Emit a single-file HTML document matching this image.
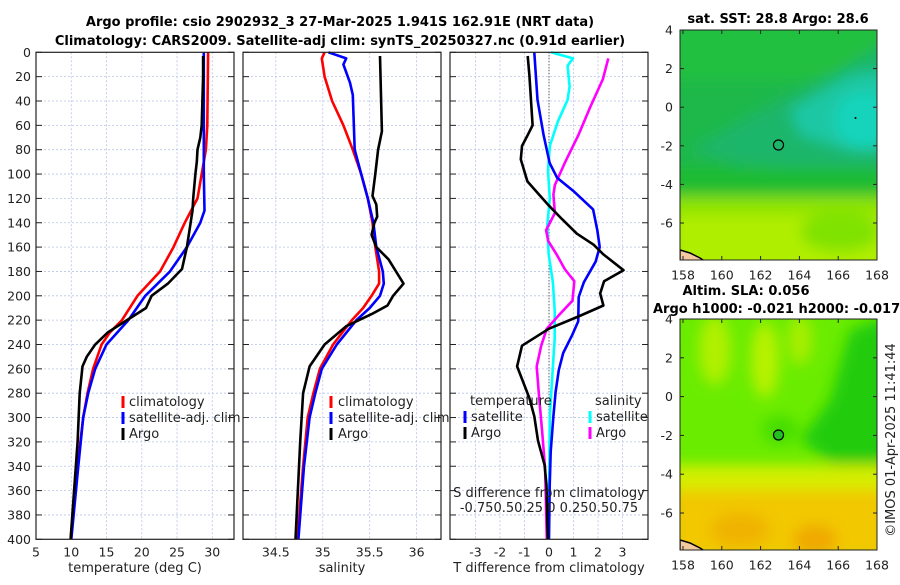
<!DOCTYPE html>
<html><head><meta charset="utf-8">
<style>
html,body{margin:0;padding:0;background:#fff;}
svg text{font-family:"DejaVu Sans","Liberation Sans",sans-serif;fill:#222;}
.t{font-size:12.5px;}
.b{font-size:13px;font-weight:bold;fill:#000;}
</style></head>
<body>
<svg id="fig" width="900" height="580" viewBox="0 0 900 580" xmlns="http://www.w3.org/2000/svg">
<defs>
<filter id="blur1" x="-20%" y="-20%" width="140%" height="140%"><feGaussianBlur stdDeviation="7"/></filter>
<clipPath id="cm1"><rect x="680" y="30" width="197" height="230"/></clipPath>
<clipPath id="cm2"><rect x="680" y="319" width="197" height="231"/></clipPath>
</defs>
<text class="b" x="340" y="26" text-anchor="middle">Argo profile: csio 2902932_3 27-Mar-2025 1.941S 162.91E (NRT data)</text>
<text class="b" x="340" y="45" text-anchor="middle">Climatology: CARS2009. Satellite-adj clim: synTS_20250327.nc (0.91d earlier)</text>
<g id="plots"></g>

<!-- SST map -->
<g>
<text class="b" x="778" y="23" text-anchor="middle">sat. SST: 28.8 Argo: 28.6</text>
<g clip-path="url(#cm1)">
<rect x="680" y="30" width="197" height="230" fill="#1eb84a"/>
<g filter="url(#blur1)">
<rect x="670" y="20" width="220" height="60" fill="#22c040"/>
<polygon points="690,150 760,110 840,70 890,40 890,200 820,170 740,165" fill="#1cb66a"/>
<polygon points="790,110 850,75 890,70 890,150 850,150 800,135" fill="#1ec8a4"/>
<ellipse cx="865" cy="120" rx="30" ry="28" fill="#18d4bc"/>
<rect x="670" y="168" width="220" height="28" fill="#1cbc30"/>
<rect x="670" y="196" width="220" height="25" fill="#8ee400"/>
<rect x="670" y="215" width="220" height="60" fill="#b0ee00"/>
<ellipse cx="840" cy="232" rx="40" ry="20" fill="#80e200"/>
</g>
<path d="M680,250 L690,253 L700,258 L706,262 L680,262 Z" fill="#f5c9a0" stroke="#000" stroke-width="1.5"/>
</g>
<rect x="680" y="30" width="197" height="230" fill="none" stroke="#222" stroke-width="1"/>
<circle cx="778.5" cy="145" r="5" fill="none" stroke="#000" stroke-width="1.2"/>
<circle cx="855.5" cy="118" r="1" fill="#000"/>
</g>

<!-- SLA map -->
<g>
<text class="b" x="746" y="295" text-anchor="middle">Altim. SLA: 0.056</text>
<text class="b" x="653" y="313">Argo h1000: -0.021 h2000: -0.017</text>
<g clip-path="url(#cm2)">
<rect x="680" y="319" width="197" height="231" fill="#6aec00"/>
<g filter="url(#blur1)">
<ellipse cx="715" cy="350" rx="16" ry="35" fill="#b0f000"/>
<ellipse cx="765" cy="360" rx="14" ry="38" fill="#b8f200"/>
<ellipse cx="800" cy="340" rx="12" ry="25" fill="#a8ee00"/>
<polygon points="830,400 850,330 890,315 890,480 840,470 800,440" fill="#22cc10"/>
<ellipse cx="780" cy="430" rx="18" ry="14" fill="#44dd05"/>
<rect x="670" y="465" width="220" height="35" fill="#d4ee00"/>
<rect x="670" y="490" width="220" height="70" fill="#f2c800"/>
<ellipse cx="740" cy="530" rx="30" ry="18" fill="#f0b400"/>
<ellipse cx="815" cy="540" rx="22" ry="15" fill="#f0a800"/>
</g>
<path d="M680,540 L690,543 L700,548 L706,552 L680,552 Z" fill="#f5c9a0" stroke="#000" stroke-width="1.5"/>
</g>
<rect x="680" y="319" width="197" height="231" fill="none" stroke="#222" stroke-width="1"/>
<circle cx="778.5" cy="435" r="5" fill="#22c020" stroke="#000" stroke-width="1.2"/>
</g>
<text x="0" y="0" transform="translate(895,440) rotate(-90)" text-anchor="middle" style="font-size:13px">©IMOS 01-Apr-2025 11:41:44</text>
<g id="mapaxes"></g>
</svg>
<script>
// ---- data ----
const tDepthArgo = [3,20,40,60,70,80,90,100,120,130,160,178,190,200,210,220,230,240,250,258,280,320,360,400];
const tArgo      = [28.7,28.7,28.6,28.5,28.3,27.9,27.8,27.6,27.3,27.2,26.4,25.7,23.7,21.4,20.6,17.9,15.2,13.4,12.2,11.6,11.2,10.9,10.4,9.9];
const tDepthClim = [0,60,80,100,120,140,160,180,200,220,230,240,260,280,300,340,400];
const tClim      = [29.4,29.3,29.1,28.5,27.9,26.1,24.5,22.6,19.4,17.2,15.5,14.3,13.1,12.3,11.7,10.9,9.9];
const tDepthSat  = [0,100,130,140,160,180,200,220,240,260,280,300,340,400];
const tSat       = [28.8,28.8,28.9,28.3,26.4,24.0,20.5,18.1,15.0,13.4,12.4,11.7,11.0,10.0];

const sDepthArgo = [3,65,80,100,118,125,135,140,150,160,170,190,200,208,215,225,240,258,280,320,400];
const sArgo      = [35.61,35.63,35.59,35.56,35.53,35.57,35.58,35.55,35.52,35.57,35.70,35.86,35.75,35.69,35.52,35.25,35.02,34.86,34.79,34.76,34.71];
const sDepthClim = [0,5,20,40,60,80,100,120,140,160,180,190,200,210,220,240,260,280,300,340,400];
const sClim      = [35.02,34.99,35.02,35.10,35.22,35.32,35.41,35.48,35.53,35.56,35.60,35.60,35.52,35.43,35.31,35.11,34.97,34.90,34.84,34.79,34.73];
const sDepthSat  = [0,5,10,25,35,80,100,120,140,160,180,190,200,210,220,240,260,280,300,340,400];
const sSat       = [35.06,35.25,35.22,35.29,35.32,35.34,35.41,35.48,35.54,35.57,35.64,35.65,35.61,35.50,35.36,35.15,34.99,34.92,34.86,34.80,34.74];

const dtArgoDepth = [3,19,60,68,77,88,106,117,126,137,149,158,166,179,188,198,208,217,227,241,258,284,299,319,339,356,400];
const dtArgo      = [-0.87,-0.8,-0.67,-0.87,-1.1,-1.15,-0.88,-0.4,0.0,0.53,1.14,1.82,2.22,3.04,2.25,2.09,2.22,1.2,0.0,-1.1,-1.3,-0.8,-0.6,-0.45,-0.18,-0.1,-0.05];
const dtSatDepth  = [0,39,68,91,103,114,129,146,160,172,189,201,221,232,247,261,279,299,328,356,400];
const dtSat       = [-0.6,-0.47,-0.22,0.03,0.33,1.0,1.8,1.97,2.07,1.9,1.42,1.21,1.19,0.95,0.58,0.4,0.27,0.18,0.07,0.03,0.0];
const dsSatDepth  = [0,5,11,28,39,57,77,97,120,143,166,189,212,235,258,299,400];
const dsSat       = [0.02,0.245,0.19,0.21,0.19,0.09,0.008,-0.01,0.008,-0.018,-0.003,0.04,0.058,0.058,0.04,0.008,-0.005];
const dsArgoDepth = [5,22,45,68,91,109,117,132,146,155,166,178,188,204,215,227,241,258,284,313,342,400];
const dsArgo      = [0.605,0.55,0.42,0.30,0.16,0.06,0.045,0.06,-0.03,-0.008,0.078,0.16,0.258,0.24,0.11,-0.022,-0.08,-0.125,-0.1,-0.068,-0.04,-0.022];

const yTicks = [0,20,40,60,80,100,120,140,160,180,200,220,240,260,280,300,320,340,360,380,400];
const tTicks = [5,10,15,20,25,30];
const sTicks = [34.5,35,35.5,36];
const dTicks = [-3,-2,-1,0,1,2,3];
const latTicks = [4,2,0,-2,-4,-6];
const lonTicks = [158,160,162,164,166,168];

// ---- axes ----
const NS='http://www.w3.org/2000/svg';
const Y0=52.3, Y1=539.3;
const yOf = d => Y0 + d*(Y1-Y0)/400;
const panels = [
 {name:'temperature-panel', x0:36, x1:234, v0:5, v1:33.08},
 {name:'salinity-panel', x0:243, x1:441, v0:34.15, v1:36.26},
 {name:'difference-panel', x0:450, x1:648, v0:-4.04, v1:4.04}
];
function sc(p){return v => p.x0 + (v-p.v0)*(p.x1-p.x0)/(p.v1-p.v0);}
const root=document.getElementById('plots');
function mk(tag,attrs,parent){const e=document.createElementNS(NS,tag);for(const k in attrs)e.setAttribute(k,attrs[k]);(parent||root).appendChild(e);return e;}
function line(xs,ds,f,color,name,parent){
  const pts=xs.map((v,i)=>f(v).toFixed(1)+','+yOf(ds[i]).toFixed(1)).join(' ');
  const e=mk('polyline',{points:pts,fill:'none',stroke:color,'stroke-width':2.6,'stroke-linejoin':'round'},parent);
  
  
}
panels.forEach((p,pi)=>{
  const g=mk('g',{});
  
  
  const f=sc(p);
  const xt = pi==0?tTicks:pi==1?sTicks:dTicks;
  yTicks.forEach(d=>{
    if(d>0&&d<400) mk('line',{x1:p.x0,x2:p.x1,y1:yOf(d),y2:yOf(d),stroke:'#b8c4e8','stroke-width':0.8,'stroke-dasharray':'2,2'},g);
    mk('line',{x1:p.x0,x2:p.x0+6,y1:yOf(d),y2:yOf(d),stroke:'#222'},g);
    mk('line',{x1:p.x1-6,x2:p.x1,y1:yOf(d),y2:yOf(d),stroke:'#222'},g);
  });
  xt.forEach(v=>{
    const x=f(v);
    mk('line',{x1:x,x2:x,y1:Y0,y2:Y1,stroke:'#b8c4e8','stroke-width':0.8,'stroke-dasharray':'2,2'},g);
    const t=mk('text',{x:x,y:Y1+17,'text-anchor':'middle',class:'t'},g);t.textContent=v;
    
    
  });
  if(pi==2) mk('line',{x1:f(0),x2:f(0),y1:Y0,y2:Y1,stroke:'#333','stroke-width':1,'stroke-dasharray':'1,2'},g);
  if(pi==0){
    yTicks.forEach(d=>{const t=mk('text',{x:31,y:yOf(d)+4.5,'text-anchor':'end',class:'t'},g);t.textContent=d;
      
      });
  }
  if(pi==0){
    line(tClim,tDepthClim,f,'#ff0000','temp-climatology-line',g);
    line(tSat,tDepthSat,f,'#0000ff','temp-satellite-line',g);
    line(tArgo,tDepthArgo,f,'#000000','temp-argo-line',g);
  } else if(pi==1){
    line(sClim,sDepthClim,f,'#ff0000','sal-climatology-line',g);
    line(sSat,sDepthSat,f,'#0000ff','sal-satellite-line',g);
    line(sArgo,sDepthArgo,f,'#000000','sal-argo-line',g);
  } else {
    const fs = v => f(v*4);
    line(dsSat,dsSatDepth,fs,'#00ffff','sdiff-satellite-line',g);
    line(dsArgo,dsArgoDepth,fs,'#ff00ff','sdiff-argo-line',g);
    line(dtSat,dtSatDepth,f,'#0000ff','tdiff-satellite-line',g);
    line(dtArgo,dtArgoDepth,f,'#000000','tdiff-argo-line',g);
  }
  mk('rect',{x:p.x0,y:Y0,width:p.x1-p.x0,height:Y1-Y0,fill:'none',stroke:'#222','stroke-width':1.2},g);
});
function txt(x,y,s,name,anchor,size){const t=mk('text',{x:x,y:y,'text-anchor':anchor||'start',style:'font-size:'+(size||13)+'px'});t.textContent=s;
  
  return t;}
function mark(x,y,c){mk('rect',{x:x-1.5,y:y-6,width:3,height:12,fill:c});}
txt(135,572,'temperature (deg C)','x-axis-title-temperature','middle');
txt(342,572,'salinity','x-axis-title-salinity','middle');
txt(549,572,'T difference from climatology','x-axis-title-tdiff','middle');
txt(549,497,'S difference from climatology','sdiff-axis-title','middle');
txt(549,512,'-0.750.50.25 0  0.250.50.75','sdiff-tick-labels','middle');
// legends
[[123,129],[331,338]].forEach(([mx,tx],i)=>{
  mark(mx,402,'#ff0000');txt(tx,406,'climatology','legend-climatology');
  mark(mx,418,'#0000ff');txt(tx,422,'satellite-adj. clim','legend-satellite');
  mark(mx,434,'#000000');txt(tx,438,'Argo','legend-argo');
});
txt(470,405,'temperature','legend-temperature-heading');
mark(465,417,'#0000ff');txt(471,421,'satellite','legend-temp-satellite');
mark(465,433,'#000000');txt(471,437,'Argo','legend-temp-argo');
txt(595,405,'salinity','legend-salinity-heading');
mark(590,417,'#00ffff');txt(596,421,'satellite','legend-sal-satellite');
mark(590,433,'#ff00ff');txt(596,437,'Argo','legend-sal-argo');

// map axes
const ma=document.getElementById('mapaxes');
[[30,260,275],[319,550,565]].forEach(([top,bot,ly],mi)=>{
  const latY = v => top + (4-v)*((mi==0?223:513)-top)/10;
  const lonX = v => 683 + (v-158)*(877-683)/10;
  latTicks.forEach(v=>{const y=latY(v);
    mk('line',{x1:680,x2:684,y1:y,y2:y,stroke:'#222'},ma);mk('line',{x1:873,x2:877,y1:y,y2:y,stroke:'#222'},ma);
    const t=mk('text',{x:673,y:y+4.5,'text-anchor':'end',class:'t'},ma);t.textContent=v;
    
    });
  lonTicks.forEach(v=>{const x=lonX(v);
    mk('line',{x1:x,x2:x,y1:bot-4,y2:bot,stroke:'#222'},ma);mk('line',{x1:x,x2:x,y1:top,y2:top+4,stroke:'#222'},ma);
    const t=mk('text',{x:x,y:ly+4.5,'text-anchor':'middle',class:'t'},ma);t.textContent=v;
    
    });
});
</script>
</body></html>
